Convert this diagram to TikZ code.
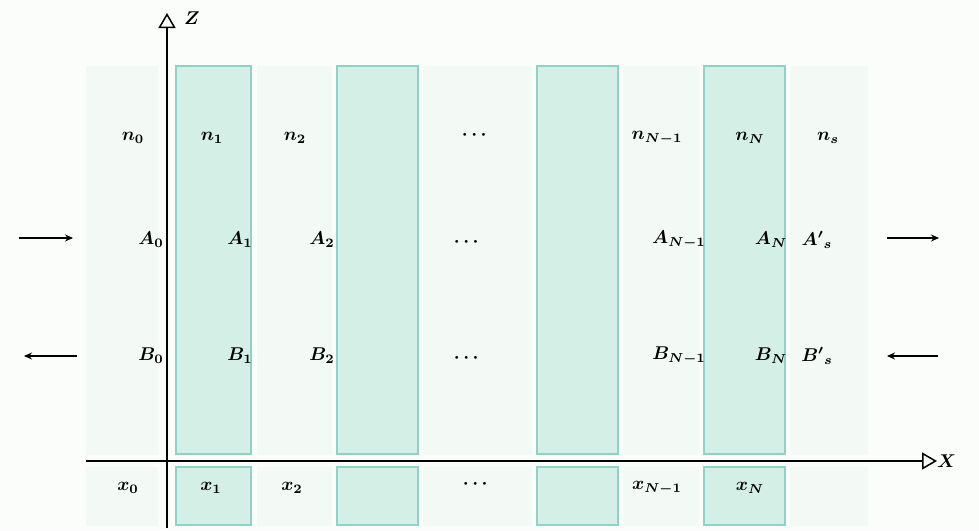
\documentclass[tikz,border=0pt]{standalone}
\usepackage{graphicx}
\usepackage{amsmath,bm}
\usetikzlibrary{arrows.meta}
\definecolor{bgc}{HTML}{FBFDFB}
\definecolor{lightreg}{HTML}{F3F9F5}
\definecolor{tealfill}{HTML}{D3EFE6}
\definecolor{tealedge}{HTML}{8ED2C8}
\newcommand{\lb}[1]{\scalebox{1.85}{$\bm{#1}$}}
\tikzset{
  lreg/.style={fill=lightreg,draw=none},
  tstrip/.style={fill=tealfill,draw=tealedge,line width=1.2pt},
  lbl/.style={inner sep=1pt},
  axisln/.style={line width=2.8pt,-{Triangle[open,length=15pt,width=17pt,line width=1.5pt]}},
  flow/.style={line width=1.3pt,-{Stealth[length=8pt,width=7pt]}}
}
\begin{document}
\begin{tikzpicture}[x=1pt,y=-1pt]
\useasboundingbox (0,0) rectangle (979,530);
\fill[bgc] (0,0) rectangle (979,530);
% light regions (upper and lower)
\foreach \a/\b in {86/158,257/332,423/532,623/699,790/868}{
  \path[lreg] (\a,66) rectangle (\b,455);
  \path[lreg] (\a,467) rectangle (\b,526);
}
% teal strips
\foreach \a/\b in {176/251,337/418,537/618,704/785}{
  \path[tstrip] (\a,66) rectangle (\b,454);
  \path[tstrip] (\a,467) rectangle (\b,525);
}
% axes
\coordinate (zb) at (167,528);
\coordinate (zt) at (167,13);
\coordinate (xl) at (86,461);
\coordinate (xr) at (937,461);
\draw[axisln] (zb) -- (zt);
\draw[axisln] (xl) -- (xr);
\node[lbl,anchor=west] (Z) at (183,18) {\lb{Z}};
\node[lbl,anchor=west] (X) at (936,461) {\lb{X}};
% n labels
\node[lbl] (n0) at (133,138) {\lb{n_0}};
\node[lbl] (n1) at (212,138) {\lb{n_1}};
\node[lbl] (n2) at (295,138) {\lb{n_2}};
\node[lbl] (nd) at (476,135) {\lb{\cdots}};
\node[lbl] (nN1) at (657,138) {\lb{n_{N-1}}};
\node[lbl] (nN) at (750,138) {\lb{n_N}};
\node[lbl] (ns) at (828,138) {\lb{n_s}};
% A labels
\node[lbl] (A0) at (151,240) {\lb{A_0}};
\node[lbl] (A1) at (240,240) {\lb{A_1}};
\node[lbl] (A2) at (322,240) {\lb{A_2}};
\node[lbl] (Ad) at (468,242) {\lb{\cdots}};
\node[lbl] (AN1) at (679,240) {\lb{A_{N-1}}};
\node[lbl] (AN) at (771,240) {\lb{A_N}};
\node[lbl] (As) at (817,240) {\lb{{A'}_s}};
% B labels
\node[lbl] (B0) at (151,356) {\lb{B_0}};
\node[lbl] (B1) at (240,356) {\lb{B_1}};
\node[lbl] (B2) at (322,356) {\lb{B_2}};
\node[lbl] (Bd) at (468,358) {\lb{\cdots}};
\node[lbl] (BN1) at (679,356) {\lb{B_{N-1}}};
\node[lbl] (BN) at (771,356) {\lb{B_N}};
\node[lbl] (Bs) at (817,356) {\lb{{B'}_s}};
% x labels
\node[lbl] (x0) at (128,488) {\lb{x_0}};
\node[lbl] (x1) at (211,488) {\lb{x_1}};
\node[lbl] (x2) at (292,488) {\lb{x_2}};
\node[lbl] (xd) at (477,484) {\lb{\cdots}};
\node[lbl] (xN1) at (657,488) {\lb{x_{N-1}}};
\node[lbl] (xN) at (750,488) {\lb{x_N}};
% flow arrows
\coordinate (la1) at (19,238); \coordinate (la2) at (73,238);
\coordinate (lb1) at (77,356); \coordinate (lb2) at (24,356);
\coordinate (ra1) at (887,238); \coordinate (ra2) at (939,238);
\coordinate (rb1) at (938,356); \coordinate (rb2) at (887,356);
\draw[flow] (la1) -- (la2);
\draw[flow] (lb1) -- (lb2);
\draw[flow] (ra1) -- (ra2);
\draw[flow] (rb1) -- (rb2);
\end{tikzpicture}
\end{document}
